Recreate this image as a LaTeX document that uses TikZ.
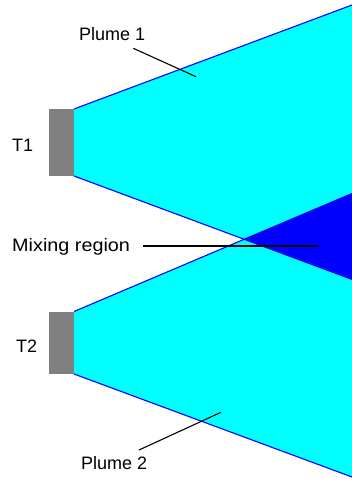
\documentclass[tikz,border=0pt]{standalone}
\usepackage{fontspec}
\setmainfont{Liberation Sans}
\definecolor{plumecyan}{RGB}{0,255,255}
\definecolor{mixblue}{RGB}{0,0,255}
\definecolor{tgray}{RGB}{128,128,128}
\begin{document}
\begin{tikzpicture}[x=1pt,y=-1pt,
  lbl/.style={inner sep=0pt,anchor=base west,font=\fontsize{18}{20}\selectfont},
  edge/.style={draw=mixblue,line width=1.1pt},
  leader/.style={draw=black,line width=1.1pt},
  source/.style={fill=tgray}]
\useasboundingbox (0,0) rectangle (352,487);
\fill[white] (0,0) rectangle (352,487);
% plume coordinates
\coordinate (p1tl) at (74,109);
\coordinate (p1tr) at (352,5);
\coordinate (p1bl) at (74,176);
\coordinate (p1br) at (352,279.4);
\coordinate (p2tl) at (74,311.5);
\coordinate (p2tr) at (352,193.5);
\coordinate (p2bl) at (74,374);
\coordinate (p2br) at (352,477);
\coordinate (apex) at (intersection of p1bl--p1br and p2tl--p2tr);
% fills
\fill[plumecyan] (p1tl) -- (p1tr) -- (p1br) -- (p1bl) -- cycle;
\fill[plumecyan] (p2tl) -- (p2tr) -- (p2br) -- (p2bl) -- cycle;
\fill[mixblue] (apex) -- (p2tr) -- (p1br) -- cycle;
% edges
\draw[edge] (p1tl) -- (p1tr);
\draw[edge] (p1bl) -- (p1br);
\draw[edge] (p2tl) -- (p2tr);
\draw[edge] (p2bl) -- (p2br);
% sources
\fill[source] (49,109) rectangle (74,176);
\fill[source] (49,311.5) rectangle (74,374);
% labels
\node[lbl] (t1) at (12,151.3) {T1};
\node[lbl] (t2) at (16,352.3) {T2};
\node[lbl] (plume1) at (79,40.5) {Plume 1};
\node[lbl] (plume2) at (81,469) {Plume 2};
\node[lbl,xscale=1.1] (mix) at (12,251.3) {Mixing region};
% leaders
\coordinate (l1s) at (133.3,48.3);
\coordinate (l1e) at (196,76.7);
\coordinate (l2s) at (139,450);
\coordinate (l2e) at (221,412.3);
\coordinate (lms) at (143,246);
\coordinate (lme) at (318,246);
\draw[leader] (l1s) -- (l1e);
\draw[leader] (l2s) -- (l2e);
\draw[leader,line width=1.6pt] (lms) -- (lme);
\end{tikzpicture}
\end{document}
